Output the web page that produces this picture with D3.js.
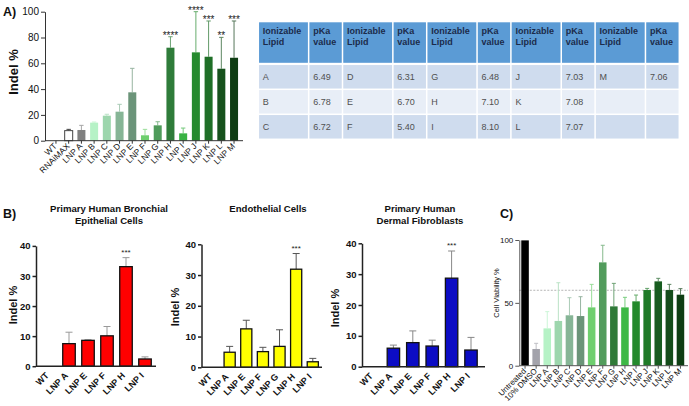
<!DOCTYPE html>
<html><head><meta charset="utf-8">
<script src="https://cdn.jsdelivr.net/npm/d3@7"></script>
<style>body{margin:0;background:#fff}svg{display:block;font-family:"Liberation Sans",Arial,sans-serif}</style>
</head><body><svg id="c" width="689" height="406"></svg>
<script>
// ---------- DATA ----------
const catsA = ["WT","RNAiMAX","LNP A","LNP B","LNP C","LNP D","LNP E","LNP F","LNP G","LNP H","LNP I","LNP J","LNP K","LNP L","LNP M"];
const indelA = [0, 7.8, 8.3, 14.0, 19.4, 22.5, 37.5, 4.2, 11.9, 72.1, 5.7, 68.5, 65.1, 55.8, 64.3];
const sdA = [0, 1.0, 3.6, 0.5, 1.1, 5.7, 18.6, 4.6, 2.8, 8.5, 4.1, 31.5, 27.7, 24.3, 28.5];
const sigA = ["","","","","","","","","","****","","****","***","**","***"];
const ticksA = [0,20,40,60,80,100];

const lipids = ["A","B","C","D","E","F","G","H","I","J","K","L","M"];
const pKa = ["6.49","6.78","6.72","6.31","6.70","5.40","6.48","7.10","8.10","7.03","7.08","7.07","7.06"];
const headerName = ["Ionizable","Lipid"];
const headerPKa = ["pKa","value"];

const catsB1 = ["WT","LNP A","LNP E","LNP F","LNP H","LNP I"];
const indelB1 = [0, 7.5, 8.6, 10.1, 33.1, 2.4];
const sdB1 = [0, 3.8, 0.2, 3.1, 3.0, 0.7];
const sigB1 = ["","","","","***",""];
const catsB2 = ["WT","LNP A","LNP E","LNP F","LNP G","LNP H","LNP I"];
const indelB2 = [0, 4.9, 12.5, 5.1, 6.8, 31.9, 1.8];
const sdB2 = [0, 1.9, 2.8, 1.4, 5.4, 5.1, 1.1];
const sigB2 = ["","","","","","***",""];
const catsB3 = ["WT","LNP A","LNP E","LNP F","LNP H","LNP I"];
const indelB3 = [0, 6.0, 7.8, 6.7, 28.7, 5.4];
const sdB3 = [0, 1.0, 3.8, 1.9, 8.8, 4.1];
const sigB3 = ["","","","","***",""];
const ticksB = [0,10,20,30,40];
const titlesB = [["Primary Human Bronchial","Epithelial Cells"],["Endothelial Cells"],["Primary Human","Dermal Fibroblasts"]];

const catsC = ["Untreated","10% DMSO","LNP A","LNP B","LNP C","LNP D","LNP E","LNP F","LNP G","LNP H","LNP I","LNP J","LNP K","LNP L","LNP M"];
const viabC = [99.7, 13.3, 29.7, 35.6, 40.1, 39.5, 46.4, 82.2, 47.2, 46.4, 51.2, 60.2, 67.1, 60.2, 56.5];
const sdC = [0, 4.5, 13.3, 30.4, 14.0, 15.4, 18.3, 13.6, 18.3, 8.0, 5.0, 1.3, 2.4, 4.5, 4.8];
const thresholdC = 60;
const ticksC = [0,50,100];

// ---------- STYLE ----------
const paletteA = ["#ffffff","#ffffff","#808080","#b6f2c6","#9dd6ad","#86b596","#6b9479","#6fcf6f","#4f9b5b","#2f7c3a","#38b242","#268a2e","#1f6f27","#17521d","#0e3d13"];
const paletteC = ["#000000","#a3a3ab","#b6f2c6","#9dd6ad","#86b596","#6b9479","#6fcf6f","#529c5c","#2f7a38","#3db846","#24892c","#1f7a27","#185c20","#144c1a","#0e3e13"];

const svg = d3.select("#c");
svg.append("rect").attr("width",689).attr("height",406).attr("fill","#fff");

function barPanel(cfg){
  const g = svg.append("g");
  const x = d3.scaleBand().domain(cfg.cats).range(cfg.xr).paddingInner(cfg.pad).paddingOuter(cfg.pad/2);
  const y = d3.scaleLinear().domain([0, cfg.ymax]).range(cfg.yr);
  const bw = x.bandwidth();
  const data = cfg.cats.map((c,i)=>({c, v:cfg.vals[i], e:cfg.errs[i], s:cfg.sig?cfg.sig[i]:"", i}));
  if (cfg.threshold!=null){
    g.append("line").attr("x1",cfg.axisX).attr("x2",cfg.xEnd)
      .attr("y1",y(cfg.threshold)).attr("y2",y(cfg.threshold))
      .attr("stroke","#b5b5b5").attr("stroke-width",1).attr("stroke-dasharray","2,1.5");
  }
  data.filter(d=>d.e>0).forEach(d=>{
    const cx = x(d.c)+bw/2, col = cfg.errColor(d.i), yt = y(d.v+d.e);
    g.append("line").attr("x1",cx).attr("x2",cx).attr("y1",y(d.v)).attr("y2",yt)
      .attr("stroke",col).attr("stroke-width",cfg.ebw);
    g.append("line").attr("x1",cx-cfg.cap).attr("x2",cx+cfg.cap).attr("y1",yt).attr("y2",yt)
      .attr("stroke",col).attr("stroke-width",cfg.ebw);
  });
  g.selectAll("rect.bar").data(data.filter(d=>d.v>0)).join("rect")
    .attr("x",d=>x(d.c)).attr("y",d=>y(d.v)).attr("width",bw).attr("height",d=>y(0)-y(d.v))
    .attr("fill",d=>cfg.fill(d.i))
    .attr("stroke",d=>cfg.stroke(d.i)).attr("stroke-width",cfg.bsw);
  const ya = d3.axisLeft(y).tickValues(cfg.yticks).tickSize(cfg.tick).tickSizeOuter(0).tickPadding(2);
  const yg = g.append("g").attr("transform",`translate(${cfg.axisX},0)`).call(ya);
  yg.selectAll("path,line").attr("stroke",cfg.axisColor).attr("stroke-width",cfg.asw);
  yg.selectAll("text").attr("font-size",cfg.yfs).attr("font-weight",cfg.yfw).attr("fill","#111")
    .attr("font-family","Liberation Sans, Arial, sans-serif");
  g.append("line").attr("x1",cfg.axisX).attr("x2",cfg.xEnd).attr("y1",y(0)).attr("y2",y(0))
    .attr("stroke",cfg.axisColor).attr("stroke-width",cfg.asw);
  if (cfg.xtick){
    g.selectAll("line.xt").data(data).join("line")
      .attr("x1",d=>x(d.c)+bw/2).attr("x2",d=>x(d.c)+bw/2)
      .attr("y1",y(0)).attr("y2",y(0)+cfg.xtick)
      .attr("stroke",cfg.axisColor).attr("stroke-width",cfg.asw);
  }
  g.selectAll("text.xl").data(data).join("text")
    .attr("transform",d=>`translate(${x(d.c)+bw/2+cfg.lx},${y(0)+cfg.ly}) rotate(-45)`)
    .attr("text-anchor","end").attr("font-size",cfg.xfs).attr("font-weight",cfg.xfw).attr("fill","#111")
    .text(d=>d.c);
  g.selectAll("text.sg").data(data.filter(d=>d.s)).join("text")
    .attr("x",d=>x(d.c)+bw/2).attr("y",d=>y(d.v+d.e)+cfg.sdy)
    .attr("text-anchor","middle").attr("font-size",cfg.sfs).attr("fill","#222").text(d=>d.s);
  g.append("text").attr("transform",`translate(${cfg.ylx},${cfg.yly}) rotate(-90)`)
    .attr("text-anchor","middle").attr("font-size",cfg.ylfs).attr("font-weight",cfg.ylfw).attr("fill","#111")
    .text(cfg.ylabel);
  return g;
}

// Panel A
barPanel({cats:catsA, vals:indelA, errs:sdA, sig:sigA, xr:[49.6,240.4], pad:0.37, ymax:100, yr:[140.7,11.7],
  axisX:45, xEnd:243, yticks:ticksA, tick:4, axisColor:"#333", asw:1, yfs:10, yfw:"normal",
  fill:i=>paletteA[i], stroke:i=>i===1?"#444":"none", bsw:1,
  errColor:i=>i===1?"#444":d3.interpolateRgb(paletteA[i],"#ffffff")(0.3), ebw:1, cap:2.2,
  xtick:3, lx:1.5, ly:6, xfs:8.5, xfw:"normal", sdy:2, sfs:10,
  ylabel:"Indel %", ylx:18, yly:72, ylfs:13, ylfw:"bold"});

// Table
(function(){
  const g = svg.append("g");
  const nPairs = Math.ceil(lipids.length/3);
  const pairX = d3.scaleBand().domain(d3.range(nPairs)).range([258.3,679.3]);
  const nameW = pairX.bandwidth()*0.598;
  const rowY = d3.scaleLinear().domain([0,3]).range([64.3,139.3]);
  const headTop = 22.3;
  const rowFill = ["#cfdcee","#e8eef7","#cfdcee"];
  d3.range(nPairs).forEach(p=>{
    const x0 = pairX(p), x1 = x0+nameW, x2 = x0+pairX.bandwidth();
    [[x0,x1],[x1,x2]].forEach(([a,b],k)=>{
      g.append("rect").attr("x",a+0.75).attr("y",headTop).attr("width",b-a-1.5).attr("height",rowY(0)-headTop-1.5).attr("fill","#5b9bd5");
      const hdr = k===0?headerName:headerPKa;
      hdr.forEach((t,j)=>g.append("text").attr("x",a+4.5).attr("y",headTop+11.5+j*11)
        .attr("font-size",9).attr("font-weight","bold").attr("fill","#1b2b4b").text(t));
      d3.range(3).forEach(r=>{
        g.append("rect").attr("x",a+0.75).attr("y",rowY(r)+0.75).attr("width",b-a-1.5).attr("height",rowY(r+1)-rowY(r)-1.5).attr("fill",rowFill[r]);
        const idx = p*3+r;
        if (idx<lipids.length){
          g.append("text").attr("x",a+4.5).attr("y",(rowY(r)+rowY(r+1))/2+3)
            .attr("font-size",9).attr("fill","#505050").text(k===0?lipids[idx]:pKa[idx]);
        }
      });
    });
  });
})();

// Panel B
const bCommon = {pad:0.34, ymax:40, yticks:ticksB, tick:3.5, axisColor:"#222", asw:1.5, yfs:9.5, yfw:"bold",
  stroke:()=>"#111", bsw:1.3, ebw:1, cap:3.5, xtick:0, lx:-0.5, ly:10, xfs:9, xfw:"bold", sdy:-3, sfs:8,
  ylabel:"Indel %", ylfs:11, ylfw:"bold"};
barPanel(Object.assign({}, bCommon, {cats:catsB1, vals:indelB1, errs:sdB1, sig:sigB1, xr:[40.5,154.5], yr:[366.2,245.9],
  axisX:36, xEnd:156, fill:()=>"#ff0000", errColor:()=>"#999", ylx:17, yly:305}));
barPanel(Object.assign({}, bCommon, {cats:catsB2, vals:indelB2, errs:sdB2, sig:sigB2, xr:[204.7,321.1], yr:[367.3,244.3], pad:0.33,
  axisX:201.5, xEnd:322, fill:()=>"#ffff00", errColor:()=>"#555", ylx:179, yly:307}));
barPanel(Object.assign({}, bCommon, {cats:catsB3, vals:indelB3, errs:sdB3, sig:sigB3, xr:[364.3,480.7], yr:[366.7,243.3], pad:0.36,
  axisX:362, xEnd:485, fill:()=>"#0c0cc4", errColor:()=>"#888", ylx:339, yly:308}));

const titleX = [109, 268, 420];
titlesB.forEach((lines,k)=>{
  lines.forEach((t,j)=>svg.append("text").attr("x",titleX[k]).attr("y",212+j*12)
    .attr("text-anchor","middle").attr("font-size",9.6).attr("font-weight","bold").attr("fill","#111").text(t));
});

// Panel C
barPanel({cats:catsC, vals:viabC, errs:sdC, xr:[519.5,686], pad:0.32, ymax:100, yr:[365.7,240],
  axisX:519.3, xEnd:688, yticks:ticksC, tick:4, axisColor:"#555", asw:1, yfs:8, yfw:"normal",
  fill:i=>paletteC[i], stroke:()=>"none", bsw:0, threshold:thresholdC,
  errColor:i=>d3.interpolateRgb(paletteC[i],"#ffffff")(0.3), ebw:1, cap:2,
  xtick:3, lx:1.5, ly:6, xfs:8, xfw:"normal", sdy:0, sfs:8,
  ylabel:"Cell Viability %", ylx:499, yly:293, ylfs:7.5, ylfw:"normal"});

[["A)",3,16],["B)",3,218],["C)",500,218]].forEach(([t,x,y])=>
  svg.append("text").attr("x",x).attr("y",y).attr("font-size",12.5).attr("font-weight","bold").attr("fill","#111").text(t));
</script></body></html>
